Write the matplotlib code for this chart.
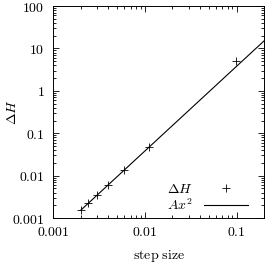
import matplotlib
matplotlib.use("Agg")
import matplotlib.pyplot as plt
import numpy as np
from matplotlib.ticker import FixedLocator, FixedFormatter, LogLocator, NullFormatter

plt.rcParams['mathtext.fontset'] = 'cm'
plt.rcParams['font.family'] = 'DejaVu Serif'

step = [0.002, 0.0024, 0.003, 0.004, 0.0059, 0.011, 0.099]
dH = [0.00157, 0.0023, 0.0035, 0.0061, 0.0133, 0.0465, 5.0]
A = 380.0
fit_x = [0.002, 0.25]

xticks = [0.001, 0.01, 0.1]
xlabels = ['$0.001$', '$0.01$', '$0.1$']
yticks = [0.001, 0.01, 0.1, 1, 10, 100]
ylabels = ['$0.001$', '$0.01$', '$0.1$', '$1$', '$10$', '$100$']

fig = plt.figure(figsize=(2.65, 2.64), dpi=100)
ax = fig.add_axes([0.2, 0.174, 0.797, 0.803])

ax.plot(step, dH, '+', color='black', markersize=6, markeredgewidth=0.6, label=r'$\Delta H$')
fx = np.array(fit_x)
ax.plot(fx, A * fx**2, '-', color='black', linewidth=0.8, label=r'$Ax^2$')

ax.set_xscale('log')
ax.set_yscale('log')
ax.set_xlim(0.001, 0.2)
ax.set_ylim(0.001, 100)

ax.xaxis.set_major_locator(FixedLocator(xticks))
ax.xaxis.set_major_formatter(FixedFormatter(xlabels))
ax.yaxis.set_major_locator(FixedLocator(yticks))
ax.yaxis.set_major_formatter(FixedFormatter(ylabels))
ax.xaxis.set_minor_locator(LogLocator(base=10, subs=np.arange(2, 10)))
ax.yaxis.set_minor_locator(LogLocator(base=10, subs=np.arange(2, 10)))
ax.xaxis.set_minor_formatter(NullFormatter())
ax.yaxis.set_minor_formatter(NullFormatter())

ax.tick_params(which='both', direction='in', top=True, right=True, labelsize=10, width=0.6)
ax.tick_params(which='major', length=4)
ax.tick_params(which='minor', length=2)
ax.tick_params(axis='x', which='major', pad=5)
ax.tick_params(axis='y', which='major', pad=6)
for s in ax.spines.values():
    s.set_linewidth(0.7)

ax.set_xlabel(r'$\mathrm{step\ size}$', fontsize=10)
ax.xaxis.set_label_coords(0.5, -0.14)
ax.set_ylabel(r'$\Delta H$', fontsize=10)
ax.yaxis.set_label_coords(-0.16, 0.5)

ax.legend(loc='lower right', frameon=False, markerfirst=False, fontsize=10,
          handlelength=3.2, handletextpad=0.8, borderaxespad=0.2, labelspacing=0.1,
          bbox_to_anchor=(0.965, -0.015))

fig.savefig('out.png', dpi=100)
